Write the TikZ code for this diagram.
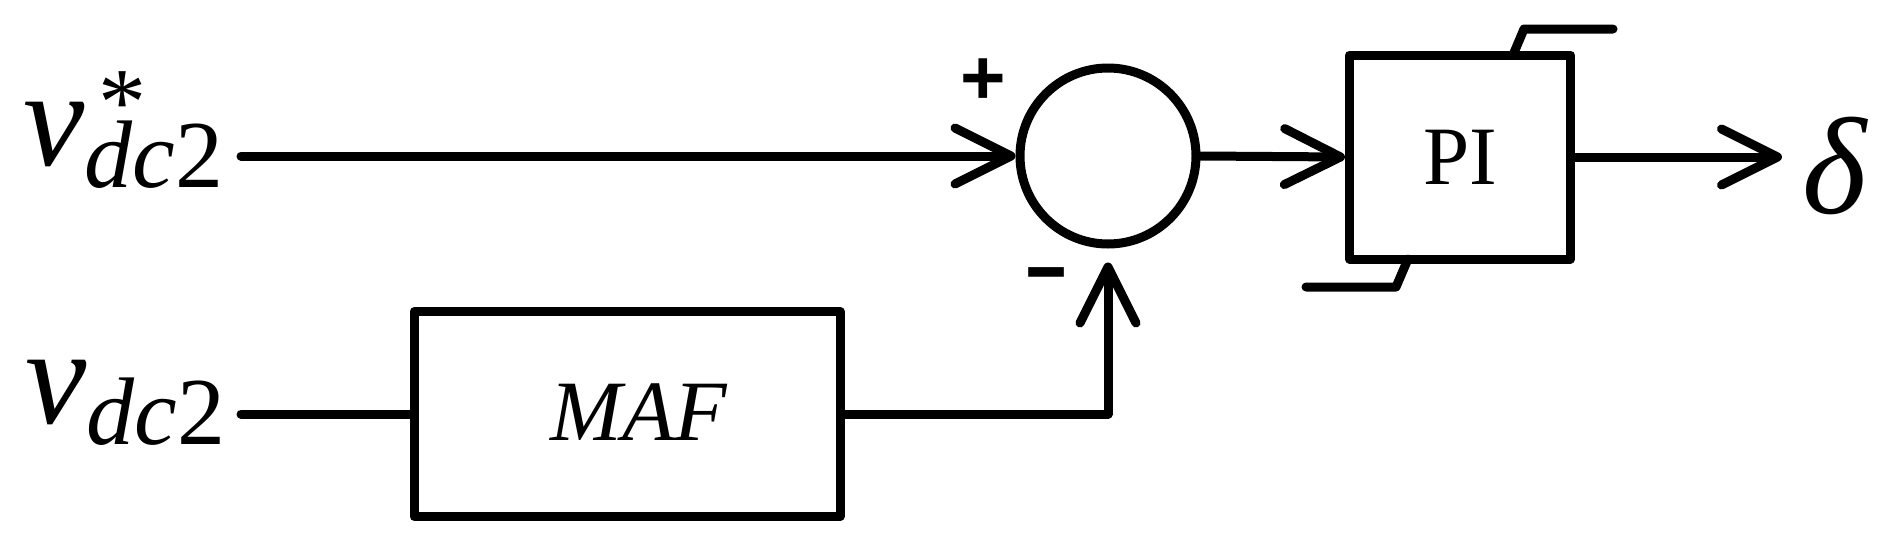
\documentclass[tikz,border=0pt]{standalone}
\usepackage{fontspec}
\setmainfont{Liberation Serif}
\newfontfamily\signfont{Liberation Sans}
\usetikzlibrary{arrows.meta,calc}
\begin{document}
\begin{tikzpicture}[x=1pt,y=-1pt,
  wire/.style={line width=9pt, line cap=round, line join=round},
  arr/.style={wire, -{Straight Barb[length=56pt,width=56pt,round]}},
  blockbox/.style={draw, line width=9pt, line join=round, rectangle, inner sep=0pt},
  sumnode/.style={draw, circle, line width=9pt, minimum size=176pt, inner sep=0pt},
  biglabel/.style={anchor=base west, inner sep=0pt, font=\fontsize{138}{138}\selectfont\itshape},
  signtext/.style={anchor=base, inner sep=0pt}
]
\useasboundingbox (0,0) rectangle (1904,552);

% input labels
\node[biglabel] (lab1) at (23,165) {v\raisebox{-22pt}{\fontsize{96}{96}\selectfont dc\upshape 2}};
\node[anchor=base, inner sep=0pt, font=\fontsize{96}{96}\selectfont] (star) at (122,134) {*};
\node[biglabel] (lab2) at (25,423) {v\raisebox{-21pt}{\fontsize{96}{96}\selectfont dc\upshape 2}};

\coordinate (in1) at (241,156);
\coordinate (in2) at (241,414);

% blocks
\node[sumnode] (sum) at (1108,156) {};
\node[blockbox, minimum width=426pt, minimum height=205pt] (maf) at (627,414) {};
\node[inner sep=0pt, font=\fontsize{86}{86}\selectfont\itshape] (maftext) at ($(maf.center)+(12,-2)$) {MAF};
\node[blockbox, minimum width=221pt, minimum height=204pt, font=\fontsize{83}{83}\selectfont] (pi) at (1460,157) {PI};
\coordinate (out) at (1782,157);
\node[biglabel] (delta) at (1802,213) {δ};

% signs
\node[signtext, font=\signfont\bfseries\fontsize{78}{78}\selectfont] (plus) at (983,104) {+};
\node[signtext, font=\signfont\bfseries\fontsize{72}{72}\selectfont] (minus) at (1047,298) {\scalebox{1}[1.35]{–}};

% connectors
\draw[arr] (in1) -- (sum.west);
\draw[arr] (sum.east) -- (pi.west);
\draw[arr] (pi.east) -- (out);
\draw[wire] (in2) -- (maf.west);
\draw[arr, shorten >=14pt] (maf.east) -| (sum.south);

% saturation marks of the PI block
\draw[wire] (1513,55) -- (1524,29) -- (1613,29);
\draw[wire] (1408,259) -- (1396,287) -- (1306,287);
\end{tikzpicture}
\end{document}
